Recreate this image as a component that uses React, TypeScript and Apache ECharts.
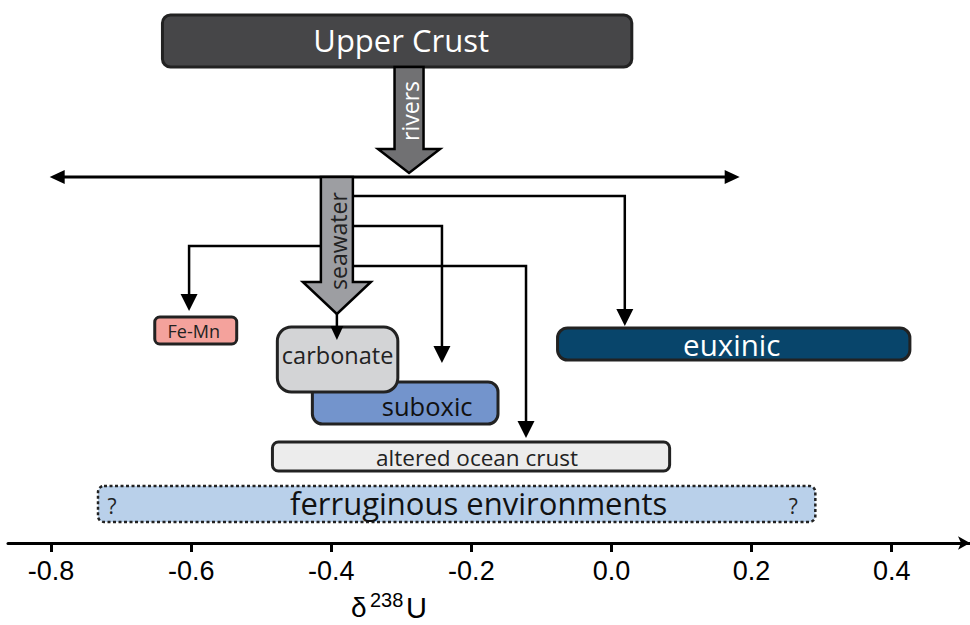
import React, { useEffect, useRef } from "react";
import * as echarts from "echarts";

// ---- data (δ238U ranges, per mil) ----
const categories = ["Upper Crust", "Fe-Mn", "suboxic", "carbonate", "euxinic", "altered ocean crust", "ferruginous environments"];
const rangeMin = [-0.641, -0.652, -0.427, -0.477, -0.077, -0.484, -0.733];
const rangeMax = [0.029, -0.535, -0.162, -0.305, 0.426, 0.083, 0.291];

const fluxNames = ["rivers", "seawater"];
const fluxValues = [-0.289, -0.392];
const seawaterSpan = [-0.802, 0.183];
const sinkNames = ["Fe-Mn", "carbonate", "suboxic", "altered ocean crust", "euxinic"];
const sinkArrowValues = [-0.603, -0.392, -0.242, -0.122, 0.019];

const tickValues = [-0.8, -0.6, -0.4, -0.2, 0.0, 0.2, 0.4];
const axisMin = -0.8615;
const axisMax = 0.5118;

// ---- layout (vertical rows in px, styles) ----
const boxTop = [15, 317, 382, 327, 328, 442, 486];
const boxBottom = [67, 344, 424, 392, 360, 471, 522];
const boxFill = ["#464648", "#f4a29c", "#7394cc", "#d3d4d6", "#08456b", "#ececec", "#b9d0ea"];
const boxText = ["#ffffff", "#222222", "#111111", "#222222", "#ffffff", "#222222", "#111111"];
const boxFont = [31, 18, 25.5, 23.5, 29.5, 22.5, 31];
const boxRadius = [8, 5, 10, 14, 10, 6, 6];
const boxDashed = [false, false, false, false, false, false, true];
const labelDx = [4, -2, 22, 0, -2, 6, 22];
const labelDy = [-1, 0, 3, -5, 0, 1, -1];

const lineY = 177;
const riversRow = [67, 149, 173];
const seawaterRow = [177, 282, 314];
const sinkBranchY = [246, 314, 226, 266, 196];
const sinkTipY = [311, 340, 363, 438, 326];

const FONT = "'Open Sans', 'DejaVu Sans', sans-serif";
const AXFONT = "'Liberation Sans', Arial, sans-serif";

function arrowHead(x: number, tipY: number, half: number, len: number) {
  return [[x - half, tipY - len], [x + half, tipY - len], [x, tipY]];
}

export default function App() {
  const ref = useRef<HTMLDivElement>(null);
  useEffect(() => {
    if (!ref.current) return;
    const chart = echarts.init(ref.current, null, { renderer: "svg" });

    const renderBoxes = (params: any, api: any) => {
      const i = api.value(2);
      const x0 = api.coord([api.value(0), 0])[0];
      const x1 = api.coord([api.value(1), 0])[0];
      const y0 = api.coord([0, boxTop[i]])[1];
      const y1 = api.coord([0, boxBottom[i]])[1];
      const children: any[] = [
        {
          type: "rect",
          shape: { x: x0, y: y0, width: x1 - x0, height: y1 - y0, r: boxRadius[i] },
          style: {
            fill: boxFill[i],
            stroke: "#222",
            lineWidth: boxDashed[i] ? 2.5 : 3,
            lineDash: boxDashed[i] ? [3, 2.5] : null,
          },
        },
        {
          type: "text",
          x: (x0 + x1) / 2 + labelDx[i],
          y: (y0 + y1) / 2 + labelDy[i],
          style: {
            text: categories[i],
            fill: boxText[i],
            fontSize: boxFont[i],
            fontFamily: FONT,
            align: "center",
            verticalAlign: "middle",
          },
        },
      ];
      if (boxDashed[i]) {
        children.push(
          { type: "text", x: x0 + 14, y: (y0 + y1) / 2 + 2, style: { text: "?", fill: "#222", fontSize: 21, fontFamily: FONT, align: "center", verticalAlign: "middle" } },
          { type: "text", x: x1 - 22, y: (y0 + y1) / 2 + 2, style: { text: "?", fill: "#222", fontSize: 21, fontFamily: FONT, align: "center", verticalAlign: "middle" } }
        );
      }
      return { type: "group", children };
    };

    const renderFlux = (params: any, api: any) => {
      const X = (v: number) => api.coord([v, 0])[0];
      const Y = (v: number) => api.coord([0, v])[1];
      const children: any[] = [];
      const thin = { stroke: "#000", lineWidth: 2.5, fill: "none" };

      // seawater horizontal double arrow
      const lx0 = X(seawaterSpan[0]);
      const lx1 = X(seawaterSpan[1]);
      const ly = Y(lineY);
      children.push({ type: "line", shape: { x1: lx0 + 8, y1: ly, x2: lx1 - 8, y2: ly }, style: { stroke: "#000", lineWidth: 3 } });
      children.push({ type: "polygon", shape: { points: [[lx0, ly], [lx0 + 15, ly - 7], [lx0 + 15, ly + 7]] }, style: { fill: "#000" } });
      children.push({ type: "polygon", shape: { points: [[lx1, ly], [lx1 - 15, ly - 7], [lx1 - 15, ly + 7]] }, style: { fill: "#000" } });

      // branches from seawater
      const sx = X(fluxValues[1]);
      const shaftHalf = 16;
      sinkNames.forEach((name, k) => {
        const tx = X(sinkArrowValues[k]);
        const by = Y(sinkBranchY[k]);
        const ty = Y(sinkTipY[k]);
        if (name === "carbonate") {
          children.push({ type: "line", shape: { x1: tx, y1: by, x2: tx, y2: ty - 12 }, style: thin });
          children.push({ type: "polygon", shape: { points: arrowHead(tx, ty, 6.5, 14) }, style: { fill: "#000" } });
        } else {
          const startX = tx < sx ? sx - shaftHalf : sx + shaftHalf;
          children.push({ type: "polyline", shape: { points: [[startX, by], [tx, by], [tx, ty - 15]] }, style: thin });
          children.push({ type: "polygon", shape: { points: arrowHead(tx, ty, 8.5, 17) }, style: { fill: "#000" } });
        }
      });

      // thick flux arrows
      const thick = (v: number, row: number[], half: number, headHalf: number, fill: string) => {
        const x = X(v);
        const a = Y(row[0]);
        const b = Y(row[1]);
        const c = Y(row[2]);
        return {
          type: "polygon",
          shape: {
            points: [
              [x - half, a], [x + half, a], [x + half, b], [x + headHalf, b],
              [x, c], [x - headHalf, b], [x - half, b],
            ],
          },
          style: { fill, stroke: "#000", lineWidth: 2.5, lineJoin: "miter" },
        };
      };
      children.push(thick(fluxValues[0], riversRow, 14.5, 31, "#717173"));
      children.push(thick(fluxValues[1], seawaterRow, shaftHalf, 34, "#9d9ea2"));

      // rotated labels
      const rx = X(fluxValues[0]);
      children.push({
        type: "text", x: rx + 1, y: Y(111), rotation: Math.PI / 2,
        style: { text: fluxNames[0], fill: "#ffffff", fontSize: 23, fontFamily: FONT, align: "center", verticalAlign: "middle" },
      });
      children.push({
        type: "text", x: sx + 1, y: Y(241), rotation: Math.PI / 2,
        style: { text: fluxNames[1], fill: "#222222", fontSize: 23, fontFamily: FONT, align: "center", verticalAlign: "middle" },
      });
      return { type: "group", children };
    };

    chart.setOption({
      animation: false,
      grid: { left: 8, right: 0, top: 0, bottom: 82, containLabel: false },
      xAxis: {
        type: "value",
        position: "bottom",
        min: axisMin,
        max: axisMax,
        splitLine: { show: false },
        axisLine: {
          show: true,
          onZero: false,
          lineStyle: { color: "#000", width: 3 },
          symbol: ["none", "arrow"],
          symbolSize: [10, 12],
        },
        axisTick: { show: true, length: 9, inside: false, customValues: tickValues, lineStyle: { color: "#000", width: 3 } },
        axisLabel: {
          customValues: tickValues,
          formatter: (v: number) => v.toFixed(1),
          fontSize: 27,
          fontFamily: AXFONT,
          color: "#000",
          margin: 14,
        },
      },
      yAxis: { type: "value", min: 0, max: 543, inverse: true, show: false },
      graphic: [
        { type: "text", left: 351, top: 593, style: { text: "δ", fontSize: 28, fontFamily: AXFONT, fill: "#000" } },
        { type: "text", left: 370, top: 590, style: { text: "238", fontSize: 20, fontFamily: AXFONT, fill: "#000" } },
        { type: "text", left: 406, top: 593, style: { text: "U", fontSize: 29, fontFamily: AXFONT, fill: "#000" } },
      ],
      series: [
        {
          type: "custom",
          name: "reservoirs",
          renderItem: renderBoxes,
          encode: { x: [0, 1] },
          data: categories.map((c, i) => [rangeMin[i], rangeMax[i], i]),
          silent: true,
          z: 2,
        },
        {
          type: "custom",
          name: "flux",
          renderItem: renderFlux,
          data: [[0, 0, 0]],
          silent: true,
          z: 3,
        },
      ],
    });
    return () => chart.dispose();
  }, []);
  return <div ref={ref} style={{ position: "absolute", left: 0, top: 0, width: 970, height: 625 }} />;
}
